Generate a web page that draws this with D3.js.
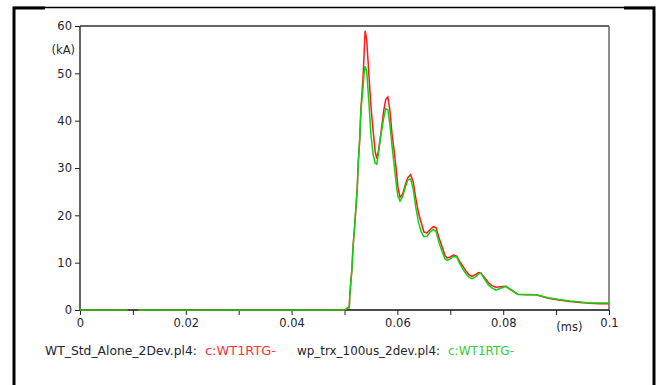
<!DOCTYPE html>
<html>
<head>
<meta charset="utf-8">
<script src="https://cdn.jsdelivr.net/npm/d3@7/dist/d3.min.js"></script>
<style>
  body { margin: 0; background: #fff; }
  text { font-family: "DejaVu Sans", sans-serif; fill: #1e2530; }
</style>
</head>
<body>
<div id="chart-area"></div>
<script>
// time in ms, current in kA
var time = [0, 0.009, 0.010, 0.011, 0.0500,
    0.0505, 0.0509, 0.0510, 0.0512, 0.0514,
    0.0516, 0.0520, 0.0524, 0.0526, 0.0529,
    0.0531, 0.0535, 0.0537, 0.0539, 0.0542,
    0.0546, 0.0550, 0.0554, 0.0558, 0.0561,
    0.0564, 0.0569, 0.0574, 0.0578, 0.0582,
    0.0586, 0.0590, 0.0594, 0.0598, 0.0601,
    0.0605, 0.0610, 0.0615, 0.0620, 0.0625,
    0.0630, 0.0635, 0.0640, 0.0645, 0.0650,
    0.0656, 0.0662, 0.0668, 0.0673, 0.0678,
    0.0684, 0.0690, 0.0694, 0.0700, 0.0706,
    0.0712, 0.0718, 0.0724, 0.0730, 0.0736,
    0.0741, 0.0748, 0.0753, 0.0758, 0.0765,
    0.0772, 0.0778, 0.0786, 0.0795, 0.0805,
    0.0815, 0.0828, 0.0845, 0.0862, 0.0885,
    0.0905, 0.0926, 0.0945, 0.0964, 0.0982,
    0.1];

var stdAlone = [0, 0, null, 0, 0,
    0.4, 0.5, 3, 6, 8.5,
    13, 19, 25.5, 31, 36.5,
    42.5, 49, 54, 59, 57,
    50, 43, 38, 33.5, 32,
    33.5, 37.5, 42, 44.5, 45,
    42, 37, 33.5, 29.5, 26,
    23.8, 24.5, 26.5, 28, 28.6,
    27, 23.5, 20.5, 18.5, 16.5,
    16.3, 17, 17.6, 17.4, 15.5,
    13.5, 11.5, 11, 11.2, 11.6,
    11.4, 10.2, 9.2, 8.2, 7.4,
    7.1, 7.5, 7.9, 7.8, 6.8,
    5.8, 5.2, 4.8, 4.9, 5.0,
    4.2, 3.3, 3.2, 3.2, 2.5,
    2.1, 1.8, 1.6, 1.4, 1.3,
    1.3];

var trx100us = [0, 0, null, 0, 0,
    0.4, 0.5, 3, 6, 8.5,
    13, 19, 25.5, 31, 36.5,
    42, 47, 50, 51.5, 50.5,
    44, 37, 33, 31, 30.8,
    33, 37, 40.5, 42.5, 42.3,
    39, 34.5, 30.5, 26.5, 24,
    23, 24, 26, 27.5, 27.7,
    25.5, 21.5, 18.5, 16.5, 15.5,
    15.6, 16.5, 17, 16.6, 14.5,
    12.5, 10.8, 10.5, 10.8, 11.3,
    11.2, 9.8, 8.6, 7.6, 6.9,
    6.6, 7.0, 7.6, 7.8, 6.5,
    5.3, 4.7, 4.2, 4.6, 5.0,
    4.3, 3.3, 3.3, 3.2, 2.6,
    2.2, 1.9, 1.7, 1.5, 1.5,
    1.5];

var xTicks = [0, 0.01, 0.02, 0.03, 0.04, 0.05, 0.06, 0.07, 0.08, 0.09, 0.1];
var xLabels = ["0", "", "0.02", "", "0.04", "", "0.06", "", "0.08", "", "0.1"];
var yTicks = [0, 10, 20, 30, 40, 50, 60];

var W = 657, H = 385;
var margin = { left: 80, right: 48, top: 26, bottom: 75 };
var width = W - margin.left - margin.right,
    height = H - margin.top - margin.bottom;

var svg = d3.select("#chart-area")
    .append("svg")
        .attr("width", W)
        .attr("height", H);

// outer frame
svg.append("path")
    .attr("d", "M14,385 V7.5 H654 V385")
    .attr("fill", "none")
    .attr("stroke", "#000")
    .attr("stroke-width", 1.5);
svg.append("path")
    .attr("d", "M14,385 V8 H45 M624,8 H654 V385")
    .attr("fill", "none")
    .attr("stroke", "#000")
    .attr("stroke-width", 3);

var g = svg.append("g")
    .attr("transform", "translate(" + margin.left + ", " + margin.top + ")");

var x = d3.scaleLinear().domain([0, 0.1]).range([0, width]);
var y = d3.scaleLinear().domain([0, 60]).range([height, 0]);

// plot box
g.append("line")
    .attr("x1", 0).attr("x2", width)
    .attr("y1", 0).attr("y2", 0)
    .attr("stroke", "#666").attr("stroke-width", 2);
g.append("line")
    .attr("x1", width).attr("x2", width)
    .attr("y1", 0).attr("y2", height)
    .attr("stroke", "#666").attr("stroke-width", 1.5);

// Y Axis
var yAxisCall = d3.axisLeft(y)
    .tickValues(yTicks)
    .tickSize(5)
    .tickPadding(3)
    .tickFormat(d3.format("d"));
var yAxisGroup = g.append("g").call(yAxisCall);
yAxisGroup.select(".domain").remove();
yAxisGroup.selectAll("line").attr("stroke", "#222");
yAxisGroup.selectAll("text").attr("font-size", "11.5px").attr("fill", "#1e2530");

// X Axis
var xAxisCall = d3.axisBottom(x)
    .tickValues(xTicks)
    .tickSize(5)
    .tickPadding(4)
    .tickFormat(function(d, i) { return xLabels[i]; });
var xAxisGroup = g.append("g")
    .attr("transform", "translate(0," + height + ")")
    .call(xAxisCall);
xAxisGroup.select(".domain").remove();
xAxisGroup.selectAll("line").attr("stroke", "#222");
xAxisGroup.selectAll("text").attr("font-size", "11.5px").attr("fill", "#1e2530");

// axis lines
g.append("line")
    .attr("x1", 0).attr("x2", 0)
    .attr("y1", 0).attr("y2", height)
    .attr("stroke", "#333").attr("stroke-width", 1.5);
g.append("line")
    .attr("x1", 0).attr("x2", width)
    .attr("y1", height).attr("y2", height)
    .attr("stroke", "#111").attr("stroke-width", 1.5);

// units
g.append("text")
    .attr("x", -5)
    .attr("y", y(55) + 4)
    .attr("text-anchor", "end")
    .attr("font-size", "11.5px")
    .text("(kA)");
g.append("text")
    .attr("x", x(0.0925))
    .attr("y", height + 21)
    .attr("text-anchor", "middle")
    .attr("font-size", "11.5px")
    .text("(ms)");

// curves
var line = d3.line()
    .defined(function(d) { return d[1] !== null; })
    .x(function(d) { return x(d[0]); })
    .y(function(d) { return y(d[1]); });

var series = [
    { values: stdAlone, color: "#ff1a1a" },
    { values: trx100us, color: "#10d010" }
];

g.selectAll(".curve")
    .data(series)
    .enter()
    .append("path")
        .attr("class", "curve")
        .attr("fill", "none")
        .attr("stroke", function(d) { return d.color; })
        .attr("stroke-width", 1.5)
        .attr("d", function(d) {
            return line(time.map(function(t, i) { return [t, d.values[i]]; }));
        });

// legend
var legendItems = [
    { x: 45, text: "WT_Std_Alone_2Dev.pl4:", color: "#1e2530", len: 152 },
    { x: 205, text: "c:WT1RTG-", color: "#ff3333", len: 71 },
    { x: 297, text: "wp_trx_100us_2dev.pl4:", color: "#1e2530", len: 143 },
    { x: 448, text: "c:WT1RTG-", color: "#33cc33", len: 66 }
];
svg.selectAll(".legend")
    .data(legendItems)
    .enter()
    .append("text")
        .attr("class", "legend")
        .attr("x", function(d) { return d.x; })
        .attr("y", 355)
        .attr("font-size", "12px")
        .attr("textLength", function(d) { return d.len; })
        .attr("lengthAdjust", "spacingAndGlyphs")
        .style("fill", function(d) { return d.color; })
        .text(function(d) { return d.text; });
</script>
</body>
</html>
